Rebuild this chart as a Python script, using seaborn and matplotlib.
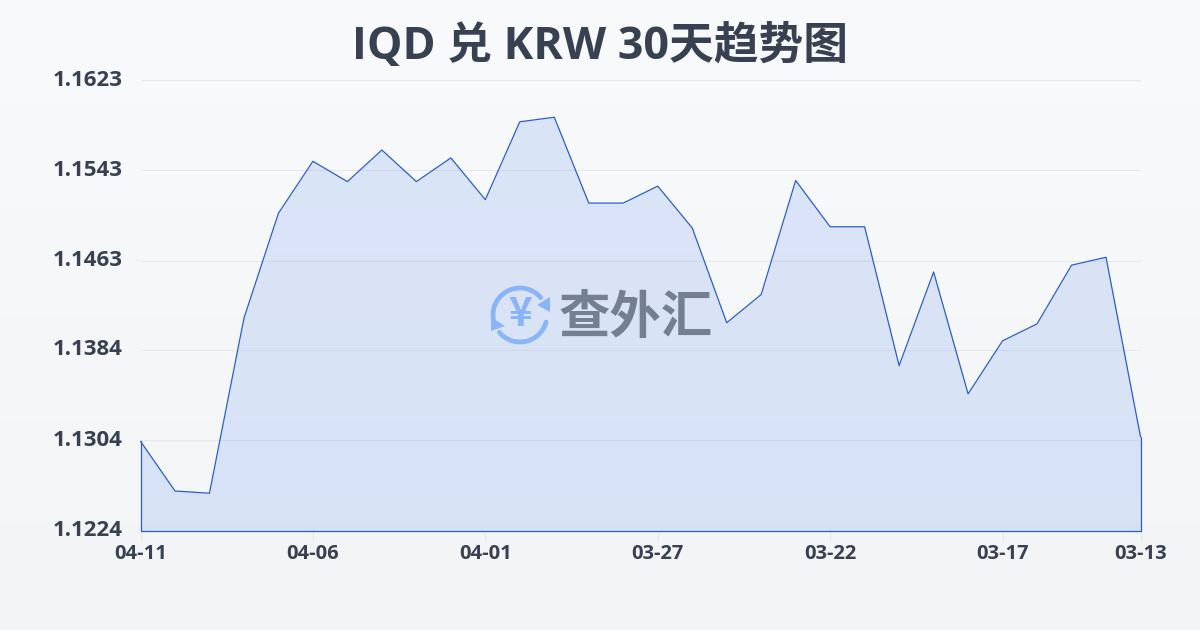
import numpy as np
import pandas as pd
import matplotlib
matplotlib.use("Agg")
import matplotlib.pyplot as plt
from matplotlib.colors import LinearSegmentedColormap
from matplotlib.patches import Polygon
import seaborn as sns

title = "IQD 兑 KRW 30天趋势图"
dates = ["04-11","04-10","04-09","04-08","04-07","04-06","04-05","04-04","04-03","04-02",
         "04-01","03-31","03-30","03-29","03-28","03-27","03-26","03-25","03-24","03-23",
         "03-22","03-21","03-20","03-19","03-18","03-17","03-16","03-15","03-14","03-13"]
rates = [1.1303,1.1259,1.1257,1.1412,1.1505,1.1551,1.1533,1.1561,1.1533,1.1554,
         1.1517,1.1586,1.1590,1.1514,1.1514,1.1529,1.1492,1.1408,1.1433,1.1534,
         1.1493,1.1493,1.1370,1.1453,1.1345,1.1392,1.1407,1.1459,1.1466,1.1307]
y_ticks = [1.1224,1.1304,1.1384,1.1463,1.1543,1.1623]
x_tick_labels = ["04-11","04-06","04-01","03-27","03-22","03-17","03-13"]
watermark = "查外汇"

sns.set_theme(style="white")
plt.rcParams['font.family'] = ['Open Sans', 'Noto Sans CJK SC', 'DejaVu Sans']
latin = ['Open Sans', 'DejaVu Sans']

W, H = 1200, 630
fig = plt.figure(figsize=(12, 6.3), dpi=100)

bg = fig.add_axes([0, 0, 1, 1], zorder=0)
bg.imshow(np.linspace(0, 1, 256).reshape(-1, 1), aspect="auto",
          cmap=LinearSegmentedColormap.from_list("bg", ["#f9fafb", "#f3f4f6"]))
bg.axis("off")

L, R, T, B = 140.5, 1140.5, 80.0, 530.5
ax = fig.add_axes([L/W, 1-B/H, (R-L)/W, (B-T)/H], zorder=1)
ax.patch.set_alpha(0)

df = pd.DataFrame({"date": dates, "rate": rates, "pos": np.arange(len(dates))})
ax.set_xlim(0, len(dates)-1)
ax.set_ylim(y_ticks[0], y_ticks[-1])

ax.fill_between(df["pos"], df["rate"], y_ticks[0], color="#3070f0", alpha=0.14, lw=0, zorder=2)
sns.lineplot(data=df, x="pos", y="rate", ax=ax, color="#2b5fc7", lw=0.9, zorder=3, errorbar=None, clip_on=False)
ax.plot([0, 0], [y_ticks[0], rates[0]], color="#2b5fc7", lw=0.9, zorder=3, clip_on=False)
ax.plot([len(dates)-1]*2, [y_ticks[0], rates[-1]], color="#2b5fc7", lw=0.9, zorder=3, clip_on=False)
ax.plot([0, len(dates)-1], [y_ticks[0]]*2, color="#2b5fc7", lw=0.9, zorder=3, clip_on=False)

ax.set_xlabel(""); ax.set_ylabel("")
for s in ax.spines.values():
    s.set_visible(False)

ax.set_yticks(y_ticks)
ax.set_yticklabels([f"{v:.4f}" for v in y_ticks], family=latin, fontweight="bold",
                   fontsize=16, color="#374151", va="center")
ax.yaxis.grid(True, color="#e5e7eb", lw=0.8, zorder=1)
ax.set_axisbelow(True)
ax.tick_params(axis="y", length=0, pad=13)

pos = [dates.index(d) for d in x_tick_labels]
ax.set_xticks(pos)
ax.set_xticklabels(x_tick_labels, family=latin, fontweight="bold",
                   fontsize=14.5, color="#374151")
ax.tick_params(axis="x", bottom=True, length=7, width=0.8, color="#e5e7eb", pad=3)

fig.text(0.5, 1-47.5/H, title, ha="center", va="center", fontsize=32.2, fontweight="bold",
         color="#374151", family=['Open Sans', 'Noto Sans CJK SC', 'DejaVu Sans'], zorder=5)

ov = fig.add_axes([0, 0, 1, 1], zorder=4)
ov.set_xlim(0, W); ov.set_ylim(H, 0); ov.axis("off"); ov.patch.set_alpha(0)
blue = "#8ab4f8"
cx, cy, r = 520, 315, 27
for a0, a1 in [(195, 40), (-15, -140)]:
    t = np.radians(np.linspace(a0, a1, 60))
    ov.plot(cx + r*np.cos(t), cy - r*np.sin(t), color=blue, lw=3.4, solid_capstyle="round")
ov.add_patch(Polygon([(550, 297), (550, 312), (537, 305)], color=blue, lw=0))
ov.add_patch(Polygon([(491, 317), (491, 331), (505, 326)], color=blue, lw=0))
ov.text(cx, cy, "¥", ha="center", va="center", fontsize=29, fontweight="bold", color=blue,
        family=['Noto Sans CJK SC'])
ov.text(636, 317, watermark, ha="center", va="center", fontsize=37, fontweight="bold",
        color="#757f92", family=['Noto Sans CJK SC', 'DejaVu Sans'])

fig.savefig("out.png", dpi=100)
